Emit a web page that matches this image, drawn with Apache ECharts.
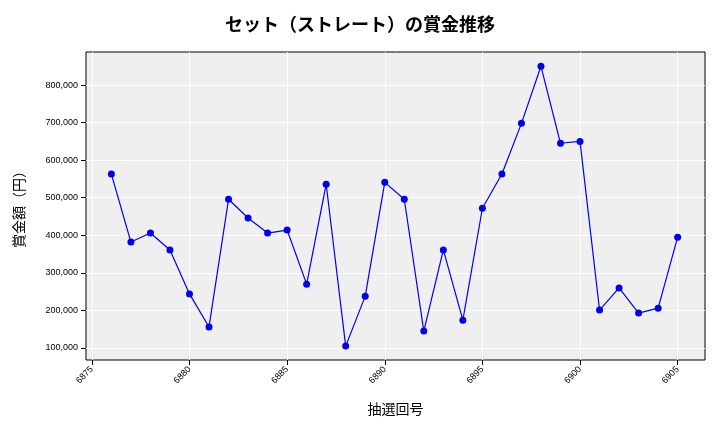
<!DOCTYPE html>
<html><head><meta charset="utf-8">
<script src="https://cdn.jsdelivr.net/npm/echarts@6/dist/echarts.min.js"></script>
<style>html,body{margin:0;padding:0;background:#fff}#c{width:720px;height:432px}</style>
</head><body><div id="c"></div>
<script>
const draws = [6876,6877,6878,6879,6880,6881,6882,6883,6884,6885,6886,6887,6888,6889,6890,6891,6892,6893,6894,6895,6896,6897,6898,6899,6900,6901,6902,6903,6904,6905];
const prizes = [563000,382000,406000,361000,244000,156000,496000,446000,406000,414000,270000,536000,105000,238000,541000,496000,145000,361000,174000,472000,563000,698000,850000,645000,650000,201000,260000,193000,206000,395000];
const xTicks = [6875,6880,6885,6890,6895,6900,6905];
const yTicks = [100000,200000,300000,400000,500000,600000,700000,800000];
const font = "'Noto Sans CJK JP', sans-serif";
const chart = echarts.init(document.getElementById('c'));
chart.setOption({
  backgroundColor:'#fff',
  title:{text:'セット（ストレート）の賞金推移',left:'center',top:10,textStyle:{fontFamily:font,fontSize:18,fontWeight:'bold',color:'#000'}},
  grid:{left:86,right:15,top:52,bottom:72,backgroundColor:'#efefef',show:true,borderColor:'#000',borderWidth:1},
  xAxis:{type:'value',min:6874.7,max:6906.4,name:'抽選回号',nameLocation:'middle',nameGap:42,
    nameTextStyle:{fontFamily:font,fontSize:14,color:'#000'},
    axisLine:{show:false},axisTick:{show:true,customValues:xTicks,lineStyle:{color:'#000'}},
    axisLabel:{rotate:45,fontSize:9,color:'#000',customValues:xTicks,formatter:v=>String(v)},
    splitLine:{show:true,lineStyle:{color:'#fff',width:1}}},
  yAxis:{type:'value',min:68000,max:888000,name:'賞金額（円）',nameLocation:'middle',nameGap:60,
    nameTextStyle:{fontFamily:font,fontSize:14,color:'#000'},
    axisLine:{show:false},axisTick:{show:true,customValues:yTicks,lineStyle:{color:'#000'}},
    axisLabel:{fontSize:9,color:'#000',customValues:yTicks,formatter:v=>v.toLocaleString('en-US')},
    splitLine:{show:true,lineStyle:{color:'#fff',width:1}}},
  series:[{type:'line',data:draws.map((d,i)=>[d,prizes[i]]),symbol:'circle',symbolSize:7,
    lineStyle:{color:'#0000ee',width:1.2},itemStyle:{color:'#0000ee'},animation:false}]
});
</script></body></html>
